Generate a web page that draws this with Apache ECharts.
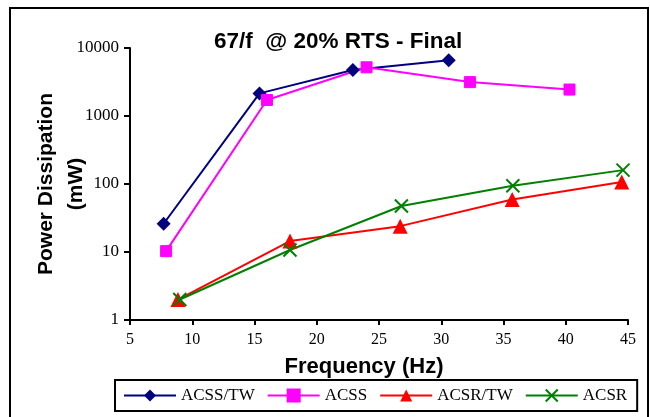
<!DOCTYPE html>
<html>
<head>
<meta charset="utf-8">
<script src="https://cdn.jsdelivr.net/npm/echarts@6/dist/echarts.min.js"></script>
<style>
html, body { margin: 0; padding: 0; background: #fff; }
#main { width: 650px; height: 417px; }
</style>
</head>
<body>
<div id="main"></div>
<script>
// values (frequency in Hz, power in mW)
const acssTwFreq = [7.7, 15.4, 22.9, 30.6];
const acssTwPower = [26, 2150, 4750, 6600];
const acssFreq = [7.9, 16.0, 24.0, 32.3, 40.3];
const acssPower = [10.3, 1720, 5200, 3150, 2450];
const acsrTwFreq = [8.85, 17.85, 26.7, 35.7, 44.5];
const acsrTwPower = [2.0, 14.5, 24, 59, 107];
const acsrFreq = [9.0, 17.85, 26.8, 35.75, 44.6];
const acsrPower = [2.0, 10.7, 47.5, 94, 160];

const seriesNames = ['ACSS/TW', 'ACSS', 'ACSR/TW', 'ACSR'];
const xTicks = [5, 45, 5]; // min, max, step
const yTicks = [1, 10000];

function pairs(xs, ys) {
  return xs.map((x, i) => [x, ys[i]]);
}

const serif = 'Liberation Serif';
const sans = 'Liberation Sans';

const chart = echarts.init(document.getElementById('main'));
chart.setOption({
  animation: false,
  backgroundColor: '#fff',
  title: {
    text: '67/f  @ 20% RTS - Final',
    left: 209,
    top: 25,
    textStyle: { fontFamily: sans, fontWeight: 'bold', fontSize: 22.5, color: '#000' }
  },
  graphic: [{
    type: 'rect',
    shape: { x: 10, y: 8, width: 638, height: 420 },
    style: { fill: 'none', stroke: '#000', lineWidth: 2 },
    silent: true
  }],
  grid: { left: 130, right: 22, top: 48, bottom: 97 },
  legend: {
    data: seriesNames,
    left: 115,
    top: 380,
    width: 530,
    padding: [7, 10, 7, 8],
    itemGap: 12,
    itemWidth: 52,
    itemHeight: 15,
    borderColor: '#000',
    borderWidth: 2,
    borderRadius: 0,
    textStyle: { fontFamily: serif, fontSize: 17, color: '#000' }
  },
  xAxis: {
    type: 'value',
    min: xTicks[0],
    max: xTicks[1],
    interval: xTicks[2],
    name: 'Frequency (Hz)',
    nameLocation: 'middle',
    nameGap: 36,
    nameTextStyle: { fontFamily: sans, fontWeight: 'bold', fontSize: 22, color: '#000', padding: [0, 30, 0, 0] },
    axisLine: { lineStyle: { color: '#000', width: 2 } },
    axisTick: { length: 5, lineStyle: { color: '#000', width: 2 } },
    axisLabel: { fontFamily: serif, fontSize: 16, color: '#000', margin: 12 },
    splitLine: { show: false }
  },
  yAxis: {
    type: 'log',
    logBase: 10,
    min: yTicks[0],
    max: yTicks[1],
    name: 'Power Dissipation\n(mW)',
    nameLocation: 'middle',
    nameGap: 39,
    nameMoveOverlap: false,
    nameTextStyle: { fontFamily: sans, fontWeight: 'bold', fontSize: 21, color: '#000', lineHeight: 30 },
    axisLine: { show: true, lineStyle: { color: '#000', width: 2 } },
    axisTick: { show: true, length: 6, lineStyle: { color: '#000', width: 2 } },
    axisLabel: { fontFamily: serif, fontSize: 17, color: '#000', margin: 11, formatter: v => String(Math.round(v)) },
    minorTick: { show: false },
    splitLine: { show: false }
  },
  series: [
    {
      name: seriesNames[0],
      type: 'line',
      data: pairs(acssTwFreq, acssTwPower),
      symbol: 'diamond',
      symbolSize: 14,
      color: '#000080',
      lineStyle: { width: 2 }
    },
    {
      name: seriesNames[1],
      type: 'line',
      data: pairs(acssFreq, acssPower),
      symbol: 'rect',
      symbolSize: 11,
      color: '#ff00ff',
      itemStyle: { borderColor: '#ff00ff', borderWidth: 1 },
      lineStyle: { width: 2 }
    },
    {
      name: seriesNames[2],
      type: 'line',
      data: pairs(acsrTwFreq, acsrTwPower),
      symbol: 'triangle',
      symbolSize: 15,
      color: '#ff0000',
      lineStyle: { width: 2 }
    },
    {
      name: seriesNames[3],
      type: 'line',
      data: pairs(acsrFreq, acsrPower),
      symbol: 'path://M0,0L10,10M10,0L0,10',
      symbolSize: 13,
      color: '#008000',
      itemStyle: { borderColor: '#008000', borderWidth: 2 },
      lineStyle: { width: 2 }
    }
  ]
});
</script>
</body>
</html>
